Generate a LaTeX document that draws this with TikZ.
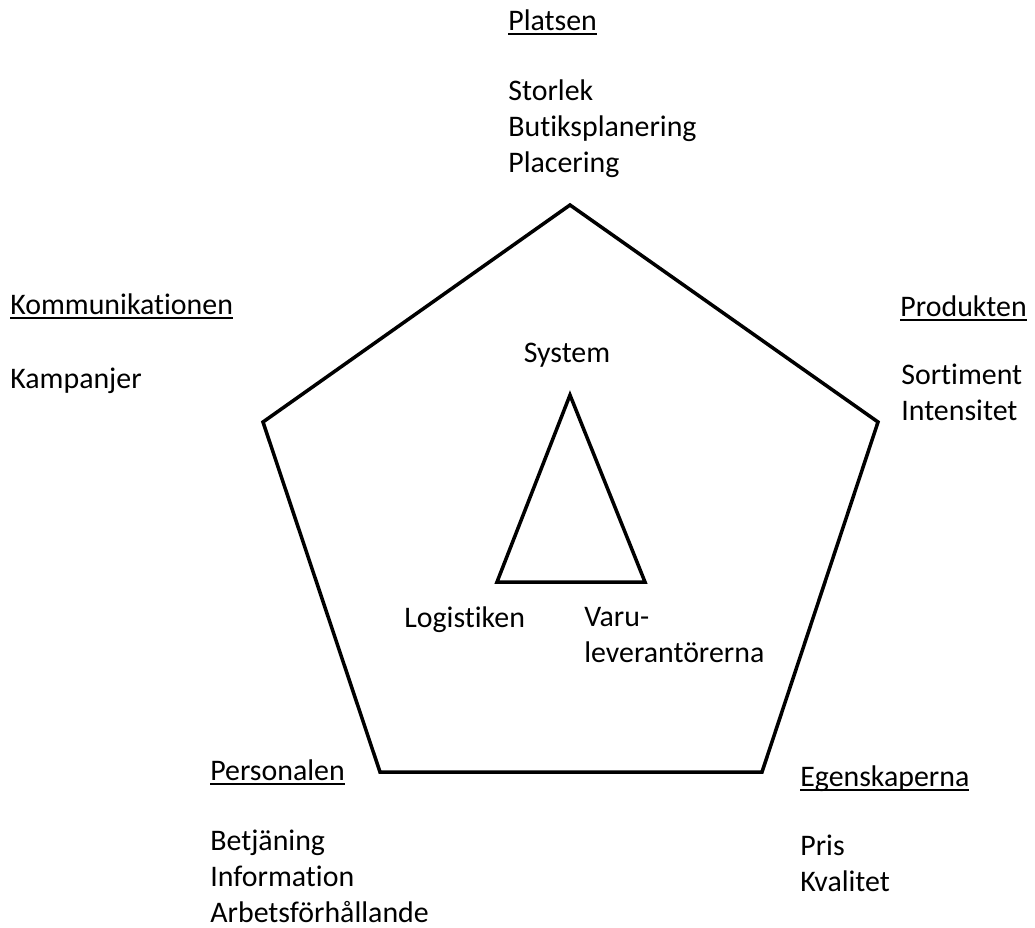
\documentclass[tikz,border=0pt]{standalone}
\usepackage{fontspec}
\setmainfont{Carlito}[Ligatures={NoCommon}]
\usetikzlibrary{positioning}
\tikzset{
  lab/.style={font=\fontsize{17}{20.3}\selectfont, inner sep=0pt, anchor=base west},
  lst/.style={lab, align=left},
  edge/.style={draw, line width=2pt, line join=miter}
}
\newcommand{\hdr}[1]{\setbox0\hbox{#1}\rlap{\rule[-2.6pt]{\wd0}{0.9pt}}\box0}

\begin{document}
\begin{tikzpicture}[x=0.02cm, y=-0.02cm]
		\useasboundingbox (0,0) rectangle (1035,927);
		% pentagon
		\coordinate (pT) at (570,205);
		\coordinate (pR) at (878,422);
		\coordinate (pBR) at (762,772);
		\coordinate (pBL) at (380,772);
		\coordinate (pL) at (263,422);
		\draw[edge] (pT) -- (pR) -- (pBR) -- (pBL) -- (pL) -- cycle;
		% triangle
		\coordinate (tT) at (570,395);
		\coordinate (tL) at (497,582);
		\coordinate (tR) at (645,582);
		\draw[edge] (tT) -- (tR) -- (tL) -- cycle;
		% corners (lists sit on their last baseline)
		\node[lab] (plats) at (508,30) {\hdr{Platsen}};
		\node[lst] (platsL) at (508,172) {Storlek\\Butiksplanering\\Placering};
		\node[lab] (komm) at (10,314) {\hdr{Kommunikationen}};
		\node[lab] (kommL) at (10,388) {Kampanjer};
		\node[lab, anchor=base east] (prod) at (1027,316) {\hdr{Produkten}};
		\node[lst] (prodL) at (901,420) {Sortiment\\Intensitet};
		\node[lab] (egen) at (800,786) {\hdr{Egenskaperna}};
		\node[lst] (egenL) at (800,891) {Pris\\Kvalitet};
		\node[lab] (pers) at (210,780) {\hdr{Personalen}};
		\node[lst] (persL) at (210,922) {Betjäning\\Information\\Arbetsförhållande};
		% inner
		\node[lab, anchor=base] (sys) at (567,362) {System};
		\node[lab] (logi) at (404,627) {Logistiken};
		\node[lst] (varu) at (584,662) {Varu-\\leverantörerna};
	\end{tikzpicture}
\end{document}
